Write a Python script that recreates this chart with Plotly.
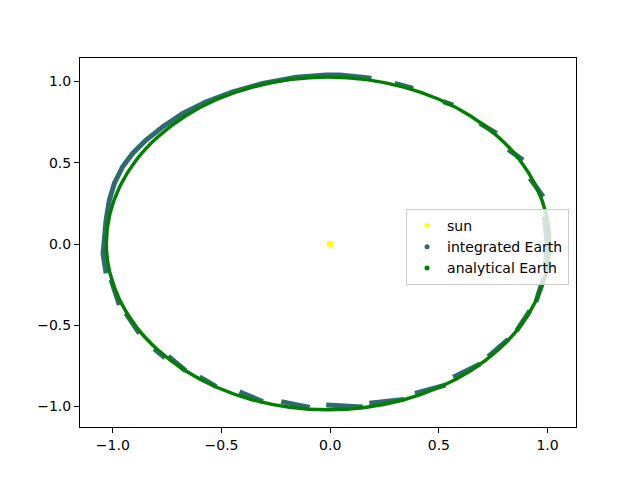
import plotly.graph_objects as go

# sun position
sun_x = [0.0]
sun_y = [0.0]

# analytical orbit, every 10 degrees
analytical_x = [1.010, 0.994, 0.948, 0.873, 0.771, 0.646, 0.500, 0.339, 0.167, -0.010,
                -0.187, -0.359, -0.520, -0.666, -0.791, -0.893, -0.968, -1.014, -1.030,
                -1.014, -0.968, -0.893, -0.791, -0.666, -0.520, -0.359, -0.187, -0.010,
                0.167, 0.339, 0.500, 0.646, 0.771, 0.873, 0.948, 0.994, 1.010]
analytical_y = [0.004, 0.182, 0.354, 0.516, 0.662, 0.788, 0.891, 0.966, 1.012, 1.028,
                1.012, 0.966, 0.891, 0.788, 0.662, 0.516, 0.354, 0.182, 0.004,
                -0.174, -0.346, -0.508, -0.654, -0.780, -0.883, -0.958, -1.004, -1.020,
                -1.004, -0.958, -0.883, -0.780, -0.654, -0.508, -0.346, -0.174, 0.004]

# integrated orbit: runs of points, None breaks between runs
integrated_x = [0.985, 0.998, 0.990, None,
                0.980, 0.919, None,
                0.888, 0.819, None,
                0.766, 0.689, None,
                0.566, 0.520, None,
                0.382, 0.297, None,
                0.190, 0.044, -0.018, -0.156, -0.310, -0.448, -0.570, -0.678, -0.770,
                -0.847, -0.909, -0.955, -0.993, -1.016, -1.031, -1.041, -1.045, -1.031, None,
                -1.008, -0.970, None,
                -0.940, -0.878, None,
                -0.810, -0.760, None,
                -0.745, -0.665, None,
                -0.601, -0.524, None,
                -0.417, -0.310, None,
                -0.225, -0.094, None,
                -0.018, 0.150, None,
                0.180, 0.340, None,
                0.390, 0.530, None,
                0.566, 0.690, None,
                0.727, 0.819, None,
                0.858, 0.919, None,
                0.947, 0.981]
integrated_y = [0.170, 0.000, -0.150, None,
                0.291, 0.404, None,
                0.517, 0.582, None,
                0.681, 0.743, None,
                0.855, 0.876, None,
                0.958, 0.989, None,
                1.020, 1.040, 1.040, 1.026, 0.989, 0.937, 0.876, 0.804, 0.722,
                0.640, 0.558, 0.476, 0.373, 0.271, 0.148, 0.020, -0.060, -0.180, None,
                -0.220, -0.375, None,
                -0.426, -0.550, None,
                -0.645, -0.700, None,
                -0.690, -0.780, None,
                -0.817, -0.878, None,
                -0.909, -0.970, None,
                -0.970, -1.005, None,
                -0.991, -1.003, None,
                -0.980, -0.956, None,
                -0.919, -0.868, None,
                -0.820, -0.738, None,
                -0.693, -0.587, None,
                -0.533, -0.410, None,
                -0.355, -0.211]

ticks = [-1.0, -0.5, 0.0, 0.5, 1.0]
tick_text = ['\u22121.0', '\u22120.5', '0.0', '0.5', '1.0']

sun_col = '#ffff00'
int_col = '#306a70'
ana_col = '#008000'

fig = go.Figure()

fig.add_trace(go.Scatter(
    x=sun_x, y=sun_y, mode='markers', showlegend=False,
    marker=dict(color=sun_col, size=6, symbol='square')
))
fig.add_trace(go.Scatter(
    x=integrated_x, y=integrated_y, mode='lines', showlegend=False,
    line=dict(color=int_col, width=5)
))
fig.add_trace(go.Scatter(
    x=analytical_x, y=analytical_y, mode='lines', showlegend=False,
    line=dict(color=ana_col, width=3.5, shape='spline')
))

# legend entries
for name, col in [('sun', sun_col), ('integrated Earth', int_col), ('analytical Earth', ana_col)]:
    fig.add_trace(go.Scatter(
        x=[None], y=[None], mode='markers', name=name,
        marker=dict(color=col, size=5)
    ))

# page body adds 8px, so the figure is a bit smaller than the window
fig.update_layout(
    width=632, height=472,
    margin=dict(l=72, r=64, t=50, b=53),
    paper_bgcolor='white',
    plot_bgcolor='white',
    font=dict(family='DejaVu Sans', size=14, color='black'),
    legend=dict(
        x=0.986, y=0.591, xanchor='right', yanchor='top',
        bgcolor='rgba(255,255,255,0.8)',
        bordercolor='#cccccc', borderwidth=1,
        font=dict(size=14),
        itemwidth=30,
    ),
)

fig.update_xaxes(
    range=[-1.151, 1.131], tickvals=ticks, ticktext=tick_text,
    showline=True, mirror=True, linecolor='black', linewidth=1,
    ticks='outside', ticklen=5, tickcolor='black',
    showgrid=False, zeroline=False
)
fig.update_yaxes(
    range=[-1.126, 1.145], tickvals=ticks, ticktext=tick_text,
    showline=True, mirror=True, linecolor='black', linewidth=1,
    ticks='outside', ticklen=5, tickcolor='black',
    showgrid=False, zeroline=False
)

fig.write_html('out.html')
